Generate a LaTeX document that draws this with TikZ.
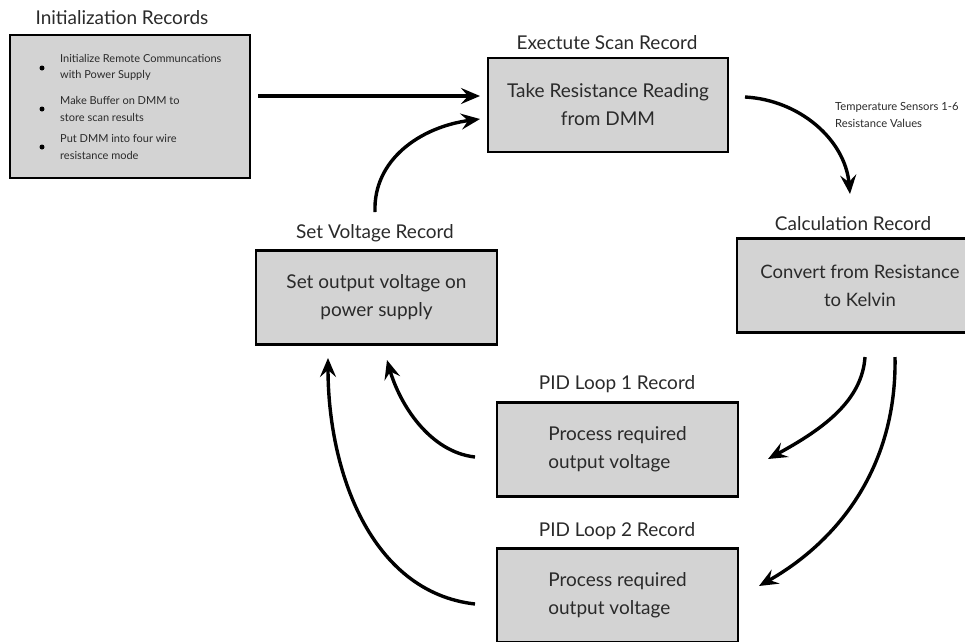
\documentclass[tikz,border=0pt]{standalone}
\usepackage{fontspec}
\setmainfont{Lato}
\usetikzlibrary{arrows.meta}
\definecolor{boxfill}{HTML}{D3D3D3}
\definecolor{txt}{HTML}{2A2A2A}
\tikzset{
  recbox/.style={draw=black, line width=2.8pt, fill=boxfill, minimum width=240pt, minimum height=94pt, inner sep=0pt, text=txt, align=center, font=\fontsize{19}{28}\selectfont},
  rectitle/.style={text=txt, font=\fontsize{19}{22}\selectfont, inner sep=0pt},
  smalltxt/.style={text=txt, font=\fontsize{11}{16.5}\selectfont, align=left, inner sep=0pt},
  bul/.style={circle, fill=black, minimum size=5pt, inner sep=0pt},
  flow/.style={line width=3.4pt, -{Stealth[length=19pt, width=16pt, inset=7pt]}},
}
\begin{document}
\begin{tikzpicture}[x=1pt,y=-1pt]
\useasboundingbox (0,0) rectangle (965,641);
\clip (0,0) rectangle (965,641);
% boxes
\node[recbox, minimum height=143pt] (init) at (130,106.5) {};
\node[rectitle] (initt) at (122,18) {Initialization Records};
\node[bul] (b1) at (42,68) {};
\node[bul] (b2) at (42,109) {};
\node[bul] (b3) at (42,147) {};
\node[smalltxt, anchor=west] (i1) at (60,67.5) {Initialize Remote Communcations\\with Power Supply};
\node[smalltxt, anchor=west] (i2) at (60,109) {Make Buffer on DMM to\\store scan results};
\node[smalltxt, anchor=west] (i3) at (60,147) {Put DMM into four wire\\resistance mode};

\node[recbox] (exec) at (608,105) {Take Resistance Reading\\from DMM};
\node[rectitle] (exect) at (607,43) {Exectute Scan Record};

\node[recbox, minimum width=246pt, font=\fontsize{18.5}{28}\selectfont] (calc) at (860,285.5) {Convert from Resistance\\to Kelvin};
\node[rectitle] (calct) at (853,224) {Calculation Record};

\node[recbox, minimum width=241pt] (sv) at (376.5,297.5) {Set output voltage on\\power supply};
\node[rectitle] (svt) at (375,233) {Set Voltage Record};

\node[recbox, minimum width=241pt, align=left] (pid1) at (617.5,449.5) {Process required\\output voltage};
\node[rectitle] (pid1t) at (617,384) {PID Loop 1 Record};

\node[recbox, minimum width=241pt, align=left] (pid2) at (617.5,595.5) {Process required\\output voltage};
\node[rectitle] (pid2t) at (617,531) {PID Loop 2 Record};

\node[smalltxt, anchor=west, font=\fontsize{11.2}{17}\selectfont] (lab) at (835,114.5) {Temperature Sensors 1-6\\Resistance Values};

% connector endpoints
\coordinate (a1s) at (258,96);   \coordinate (a1e) at (480,96);
\coordinate (a2s) at (375,212);  \coordinate (a2e) at (480,119);
\coordinate (a3s) at (745,97);   \coordinate (a3e) at (850,194);
\coordinate (a4s) at (865,357);  \coordinate (a4e) at (768,459);
\coordinate (a5s) at (895,357);  \coordinate (a5e) at (759,586);
\coordinate (a6s) at (475,457);  \coordinate (a6e) at (387,360);
\coordinate (a7s) at (475,604);  \coordinate (a7e) at (328,358);

\draw[flow] (a1s) -- (a1e);
\draw[flow] (a2s) .. controls (373,160) and (420,127) .. (a2e);
\draw[flow] (a3s) .. controls (800,100) and (845,140) .. (a3e);
\draw[flow] (a4s) .. controls (862,400) and (825,428) .. (a4e);
\draw[flow] (a5s) .. controls (897,465) and (840,540) .. (a5e);
\draw[flow] (a6s) .. controls (430,452) and (400,405) .. (a6e);
\draw[flow] (a7s) .. controls (370,592) and (328,470) .. (a7e);
\end{tikzpicture}
\end{document}
